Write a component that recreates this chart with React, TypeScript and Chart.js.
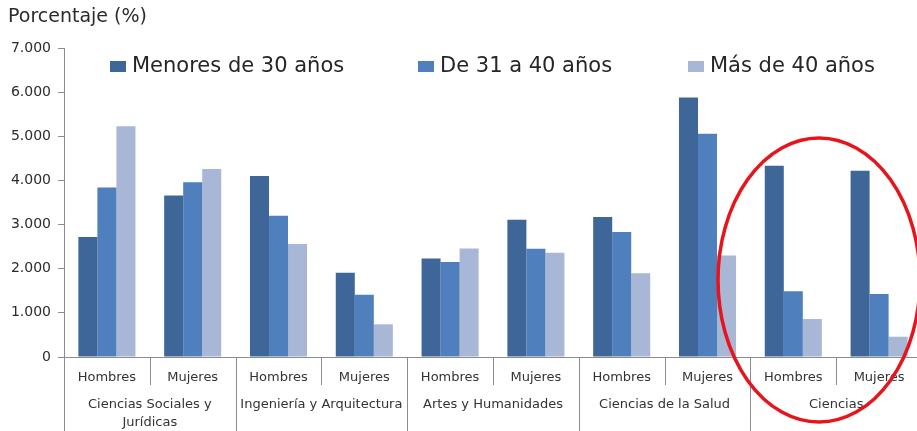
import React, { useEffect, useRef } from "react";
import { Chart, registerables } from "chart.js";

Chart.register(...registerables);

const subLabels = ["Hombres", "Mujeres", "Hombres", "Mujeres", "Hombres", "Mujeres", "Hombres", "Mujeres", "Hombres", "Mujeres"];
const groupLabels: string[][] = [
  ["Ciencias Sociales y", "Jurídicas"],
  ["Ingeniería y Arquitectura"],
  ["Artes y Humanidades"],
  ["Ciencias de la Salud"],
  ["Ciencias"],
];
const seriesNames = ["Menores de 30 años", "De 31 a 40 años", "Más de 40 años"];
const menores30 = [2720, 3660, 4100, 1910, 2230, 3110, 3170, 5880, 4330, 4220];
const de31a40 = [3840, 3960, 3200, 1410, 2150, 2450, 2830, 5060, 1490, 1430];
const mas40 = [5230, 4260, 2560, 740, 2460, 2360, 1900, 2300, 860, 460];
const yTicks = [0, 1000, 2000, 3000, 4000, 5000, 6000, 7000];
const axisTitle = "Porcentaje (%)";

const COLORS = ["#3E6699", "#4F7FBD", "#A7B7D5"];
const FONT = "'DejaVu Sans', sans-serif";
const LINE = "#8c8c8c";

function fmt(v: number): string {
  if (v === 0) return "0";
  const s = String(Math.round(v));
  return s.replace(/\B(?=(\d{3})+(?!\d))/g, ".");
}

const decorPlugin = {
  id: "decor",
  afterDraw(chart: any) {
    const ctx = chart.ctx;
    const area = chart.chartArea;
    const xs = chart.scales.x;
    const H = chart.height;
    ctx.save();
    // axis title
    ctx.fillStyle = "#2b2b2b";
    ctx.font = `19px ${FONT}`;
    ctx.textAlign = "left";
    ctx.textBaseline = "middle";
    ctx.fillText(axisTitle, 8, 17);

    // separators below x axis
    const n = subLabels.length;
    const px = (i: number) => xs.getPixelForValue(i);
    ctx.strokeStyle = LINE;
    ctx.lineWidth = 1;
    for (let i = 0; i <= n; i++) {
      let x: number;
      if (i === 0) x = area.left;
      else if (i === n) x = area.right;
      else x = (px(i - 1) + px(i)) / 2;
      const bottom = i % 2 === 0 ? H : area.bottom + 28;
      ctx.beginPath();
      ctx.moveTo(Math.round(x) + 0.5, area.bottom);
      ctx.lineTo(Math.round(x) + 0.5, bottom);
      ctx.stroke();
    }

    // group labels
    ctx.fillStyle = "#333";
    ctx.font = `13px ${FONT}`;
    ctx.textAlign = "center";
    groupLabels.forEach((lines, g) => {
      const cx = (px(2 * g) + px(2 * g + 1)) / 2;
      lines.forEach((t, k) => {
        ctx.fillText(t, cx, area.bottom + 48 + k * 18);
      });
    });

    // legend (overlaid on plot area)
    const legendX = [110, 418, 688];
    const ly = 66;
    ctx.font = `21px ${FONT}`;
    ctx.textAlign = "left";
    ctx.textBaseline = "middle";
    chart.data.datasets.forEach((ds: any, i: number) => {
      ctx.fillStyle = ds.backgroundColor;
      ctx.fillRect(legendX[i], ly - 5, 16, 11);
      ctx.fillStyle = "#262626";
      ctx.fillText(ds.label, legendX[i] + 22, ly + 1);
    });

    // red ellipse annotation
    ctx.strokeStyle = "#E8141B";
    ctx.lineWidth = 3.5;
    ctx.beginPath();
    ctx.ellipse(819, 280, 101, 142, 0, 0, Math.PI * 2);
    ctx.stroke();
    ctx.restore();
  },
};

export default function App() {
  const ref = useRef<HTMLCanvasElement | null>(null);
  useEffect(() => {
    if (!ref.current) return;
    const chart = new Chart(ref.current, {
      type: "bar",
      data: {
        labels: subLabels,
        datasets: [menores30, de31a40, mas40].map((d, i) => ({
          label: seriesNames[i],
          data: d,
          backgroundColor: COLORS[i],
          borderWidth: 0,
          categoryPercentage: 0.665,
          barPercentage: 1,
        })),
      },
      options: {
        animation: false,
        responsive: true,
        maintainAspectRatio: false,
        devicePixelRatio: 1,
        layout: { padding: { top: 48, left: 0, right: 0, bottom: 0 } },
        plugins: {
          legend: { display: false },
          tooltip: { enabled: false },
          title: { display: false },
        },
        scales: {
          x: {
            type: "category",
            offset: true,
            grid: { display: false, drawTicks: false },
            border: { display: true, color: LINE, width: 1 },
            ticks: {
              color: "#333",
              font: { family: FONT, size: 13 },
              padding: 13,
              maxRotation: 0,
              autoSkip: false,
            },
            afterFit: (s: any) => {
              s.height = 74;
            },
          },
          y: {
            min: 0,
            max: 7000,
            afterBuildTicks: (s: any) => {
              s.ticks = yTicks.map((v) => ({ value: v }));
            },
            grid: { drawOnChartArea: false, drawTicks: true, tickLength: 6, color: LINE },
            border: { display: true, color: LINE, width: 1 },
            ticks: {
              color: "#2b2b2b",
              font: { family: FONT, size: 14 },
              padding: 7,
              callback: (v: any) => fmt(Number(v)),
            },
            afterFit: (s: any) => {
              s.width = 64;
            },
          },
        },
      },
      plugins: [decorPlugin],
    });
    return () => chart.destroy();
  }, []);
  return (
    <div style={{ position: "fixed", left: 0, top: 0, width: 922, height: 431, background: "#fff" }}>
      <canvas ref={ref} />
    </div>
  );
}
